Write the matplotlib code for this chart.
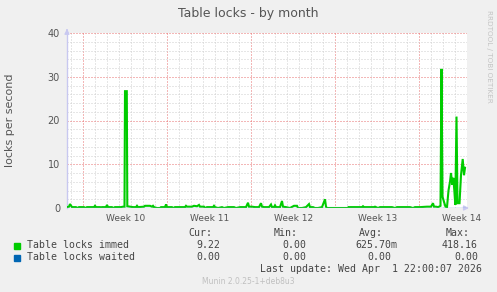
import matplotlib.pyplot as plt

# time axis: one step = 2 hours (munin monthly resolution), 400 steps shown
immed_t = [0, 2, 3, 5, 9, 10, 12, 17, 18, 20, 27, 28, 29, 33, 34, 35, 39, 40, 41, 45, 46, 48,
           54, 56, 57.5, 58, 59.8, 60.3, 63, 66, 69, 70, 71, 77, 78, 83, 85, 86, 87, 90, 93, 94,
           98, 99, 100, 105, 106, 108, 118, 119, 120, 125, 127, 130, 132, 133, 137, 138, 140,
           146, 147, 148, 151, 155, 157, 161, 167, 169, 173, 179, 181, 182, 185, 188, 192, 194,
           195, 197, 202, 204, 205, 207, 208, 209, 213, 215, 216, 219, 223, 227, 230, 231, 235,
           239, 242, 243, 246, 248, 251, 255, 258, 259, 260, 281, 281.5, 295, 296, 297, 307,
           308, 309, 311, 313, 325, 328, 330, 343, 346, 348, 353, 360, 364, 366, 367, 369, 371,
           372, 373.5, 374.5, 375.5, 377, 378.5, 380, 381.5, 383, 384, 385.3, 386.3, 387.3,
           388.3, 389.5, 390.5, 392.5, 394, 395.7, 397, 398]
immed_v = [0.2, 0.3, 0.9, 0.2, 0.2, 0, 0.2, 0.2, 0, 0.2, 0.2, 0.5, 0.2, 0.2, 0, 0.2, 0.2, 0.7, 0.2, 0.2, 0, 0.2,
           0.2, 0.3, 0.3, 26.7, 26.7, 0.4, 0.3, 0.2, 0.2, 0.5, 0.2, 0.3, 0.5, 0.5, 0.3, 0.5, 0.2, 0, 0, 0.2,
           0.2, 0.8, 0.2, 0.2, 0, 0.2, 0.2, 0.5, 0.3, 0.3, 0.5, 0.4, 0.7, 0.3, 0.3, 0, 0.2,
           0.2, 0.5, 0.2, 0, 0.2, 0, 0.2, 0.2, 0, 0.2, 0.2, 1.2, 0.3, 0.3, 0.2, 0.2, 1.1,
           0.3, 0.2, 0.2, 0.8, 0.2, 0.2, 0.6, 0.2, 0.2, 1.6, 0.3, 0.2, 0, 0.5, 0.5, 0, 0,
           0.2, 0.9, 0.2, 0.2, 0, 0, 0.2, 2.0, 0.3, 0, 0, 0.2, 0.2, 0.4, 0.2, 0.2,
           0.3, 0.2, 0, 0.2, 0.2, 0, 0.2, 0.2, 0, 0.2, 0.2, 0.3, 0.3, 1.1, 0.3, 0.3, 0.2,
           0.3, 0.5, 31.8, 2.6, 1.4, 0.3, 0.2, 4.0, 6.0, 8.0, 5.3, 6.9, 4.1,
           0.7, 20.9, 1.1, 1.1, 7.5, 11.2, 7.5, 9.2]
waited_t = [0, 398]
waited_v = [0, 0]

week_labels = ['Week 10', 'Week 11', 'Week 12', 'Week 13', 'Week 14']
week_pos = [59, 143, 227, 311, 395]
week_starts = [16, 100, 184, 268, 352]

legend_names = ['Table locks immed', 'Table locks waited']
legend_colors = ['#00CC00', '#0066B3']
cur = ['9.22', '0.00']
mins = ['0.00', '0.00']
avgs = ['625.70m', '0.00']
maxs = ['418.16', '0.00']

W, H = 497, 292
fig = plt.figure(figsize=(W / 100, H / 100), dpi=100, facecolor='#F0F0F0')
ax = fig.add_axes([67 / W, 84 / H, 400 / W, 175 / H])
ax.set_facecolor('white')
ax.set_xlim(0, 400)
ax.set_ylim(0, 40)

# grid: gray every day / every 2, red every week / every 10
for d in range(4, 400, 12):
    if d not in week_starts:
        ax.axvline(d, color='#cfcfcf', lw=0.72, ls=(0, (1, 2)), zorder=0)
for w in week_starts:
    ax.axvline(w, color='#e87070', lw=0.72, ls=(0, (1, 2)), zorder=0)
for y in range(2, 41, 2):
    if y % 10:
        ax.axhline(y, color='#cfcfcf', lw=0.72, ls=(0, (1, 2)), zorder=0)
for y in range(10, 41, 10):
    ax.axhline(y, color='#e87070', lw=0.72, ls=(0, (1, 2)), zorder=0)

ax.plot(immed_t, immed_v, color='#00CC00', lw=1.5, zorder=3, solid_joinstyle='miter')
ax.plot(waited_t, waited_v, color='#7d9fdc', lw=1.0, zorder=4)

for s in ['top', 'right', 'bottom']:
    ax.spines[s].set_visible(False)
ax.spines['left'].set_color('#c8c8f0')
ax.spines['left'].set_linewidth(1)

# axis arrows
ax.annotate('', xy=(0, 1.04), xytext=(0, 1.0), xycoords='axes fraction',
            arrowprops=dict(arrowstyle='-|>', color='#c8c8f0', lw=1, mutation_scale=7),
            annotation_clip=False)
ax.annotate('', xy=(1.012, 0), xytext=(0.99, 0), xycoords='axes fraction',
            arrowprops=dict(arrowstyle='-|>', color='#c8c8f0', lw=1, mutation_scale=7),
            annotation_clip=False)

ax.set_yticks([0, 10, 20, 30, 40])
ax.set_xticks(week_pos)
ax.set_xticklabels(week_labels)
ax.tick_params(length=0, labelsize=6.5, labelcolor='#555555')
ax.tick_params(axis='y', labelsize=7, pad=5)
ax.tick_params(axis='x', pad=4)

fig.text(248 / W, 1 - 13 / H, 'Table locks - by month', ha='center', va='center',
         fontsize=9, color='#555555')
fig.text(10 / W, 1 - 120 / H, 'locks per second', ha='center', va='center',
         rotation=90, fontsize=8, color='#555555')
fig.text(489 / W, 1 - 56 / H, 'RRDTOOL / TOBI OETIKER', ha='center', va='center',
         rotation=270, fontsize=5.2, color='#c4c4c4')

mono = dict(family='DejaVu Sans Mono', fontsize=7.1, color='#444444', va='center')
fig.text(212 / W, 1 - 233 / H, 'Cur:', ha='right', **mono)
fig.text(298 / W, 1 - 233 / H, 'Min:', ha='right', **mono)
fig.text(383 / W, 1 - 233 / H, 'Avg:', ha='right', **mono)
fig.text(470 / W, 1 - 233 / H, 'Max:', ha='right', **mono)
for i, name in enumerate(legend_names):
    yc = 245.5 + 12 * i
    fig.patches.append(plt.Rectangle((14 / W, 1 - (yc + 3) / H), 6 / W, 6 / H,
                                     transform=fig.transFigure, color=legend_colors[i]))
    fig.text(27 / W, 1 - yc / H, name, ha='left', **mono)
    fig.text(220 / W, 1 - yc / H, cur[i], ha='right', **mono)
    fig.text(306 / W, 1 - yc / H, mins[i], ha='right', **mono)
    avg_right = 397 if avgs[i].endswith('m') else 391
    fig.text(avg_right / W, 1 - yc / H, avgs[i], ha='right', **mono)
    fig.text(478 / W, 1 - yc / H, maxs[i], ha='right', **mono)
fig.text(482 / W, 1 - 269.5 / H, 'Last update: Wed Apr  1 22:00:07 2026', ha='right', **mono)
fig.text(248 / W, 1 - 281.5 / H, 'Munin 2.0.25-1+deb8u3', ha='center', va='center',
         fontsize=5.5, color='#c0c0c0')

fig.savefig('out.png', dpi=100, facecolor=fig.get_facecolor())
